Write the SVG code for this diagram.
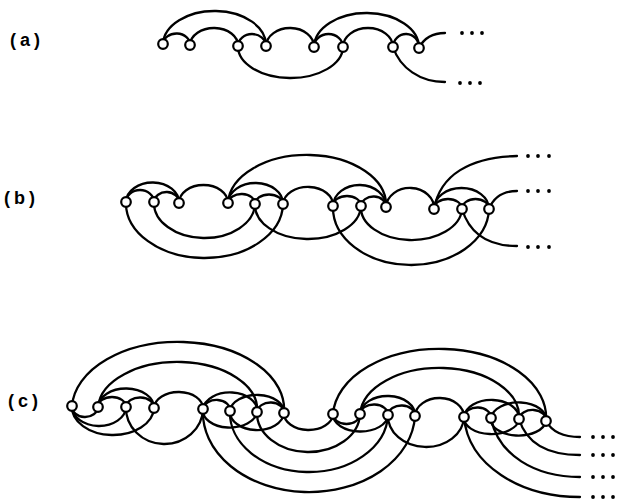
<svg xmlns="http://www.w3.org/2000/svg" width="617" height="502" viewBox="0 0 617 502">
<style>
.e{fill:none;stroke:#000;stroke-width:2.3;stroke-linecap:round}
.n{fill:#fff;stroke:#000;stroke-width:2.2}
.d{fill:#000}
.t{font-family:"Liberation Sans",Arial,sans-serif;font-size:18px;font-weight:bold;letter-spacing:4px;fill:#000}
</style>
<rect width="617" height="502" fill="#fff"/>
<g id="labels">
<text class="t" x="10" y="46">(a)</text>
<text class="t" x="4" y="204">(b)</text>
<text class="t" x="8" y="407">(c)</text>
</g>
<g id="connectors">
<!-- (a) -->
<path class="e" d="M163,44 A51.5,34 0 0 1 266,46"/>
<path class="e" d="M163,44 A13.5,11 0 0 1 190,45"/>
<path class="e" d="M190,45 A24,17.5 0 0 1 238,46"/>
<path class="e" d="M238,46 A14,12 0 0 1 266,46"/>
<path class="e" d="M266,46 A24,18.5 0 0 1 314,47"/>
<path class="e" d="M314,47 A14.5,13 0 0 1 343,47"/>
<path class="e" d="M343,47 A25,19 0 0 1 393,47"/>
<path class="e" d="M393,47 A13,13.5 0 0 1 419,48"/>
<path class="e" d="M314,47 A52.5,34.5 0 0 1 419,48"/>
<path class="e" d="M238,46 A52.5,31.5 0 0 0 343,47"/>
<path class="e" d="M393,47 C400,68 420,82 445,82"/>
<path class="e" d="M419,48 C424,38 432,33 445,33"/>
<!-- (b) -->
<path class="e" d="M126,202 A14,12 0 0 1 154,202"/>
<path class="e" d="M154,202 A12.5,10.5 0 0 1 179,203"/>
<path class="e" d="M126,202 A26.5,20 0 0 1 179,203"/>
<path class="e" d="M179,203 A24.5,18 0 0 1 228,203"/>
<path class="e" d="M228,203 A13.5,9.5 0 0 1 255,204"/>
<path class="e" d="M255,204 A14,9.5 0 0 1 283,204"/>
<path class="e" d="M228,203 A27.5,20.5 0 0 1 283,204"/>
<path class="e" d="M283,204 A25,18 0 0 1 333,206"/>
<path class="e" d="M333,206 A14,10 0 0 1 361,206"/>
<path class="e" d="M361,206 A12.5,10 0 0 1 386,207"/>
<path class="e" d="M333,206 A26.5,21.5 0 0 1 386,207"/>
<path class="e" d="M386,207 A24,20 0 0 1 434,209"/>
<path class="e" d="M434,209 A14,10 0 0 1 462,209"/>
<path class="e" d="M462,209 A13.5,10 0 0 1 489,209"/>
<path class="e" d="M434,209 A27.5,21 0 0 1 489,209"/>
<path class="e" d="M228,203 A79,50 0 0 1 386,207"/>
<path class="e" d="M126,202 A78.5,55 0 0 0 283,204"/>
<path class="e" d="M154,202 A50.5,35 0 0 0 255,204"/>
<path class="e" d="M255,204 A53,34 0 0 0 361,206"/>
<path class="e" d="M333,206 A78,57.5 0 0 0 489,209"/>
<path class="e" d="M361,206 A50.5,32.5 0 0 0 462,209"/>
<path class="e" d="M434,209 C440,175 470,157 517,156"/>
<path class="e" d="M489,209 C494,196 504,191 517,191"/>
<path class="e" d="M462,209 C470,235 490,246 517,246"/>
<!-- (c) top -->
<path class="e" d="M72,406 A106,67.5 0 0 1 284,413"/>
<path class="e" d="M98,407 A79.5,47.5 0 0 1 257,412"/>
<path class="e" d="M333,414 A106.5,68.5 0 0 1 546,421"/>
<path class="e" d="M360,414 A79.5,48.5 0 0 1 519,419"/>
<path class="e" d="M154,408 A24.5,16.5 0 0 1 203,409"/>
<path class="e" d="M415,416 A24.5,18.5 0 0 1 464,417"/>
<path class="e" d="M98,407 A14,10 0 0 1 126,407"/>
<path class="e" d="M126,407 A14,10 0 0 1 154,408"/>
<path class="e" d="M98,407 A28,19 0 0 1 154,408"/>
<path class="e" d="M203,409 A13.5,10 0 0 1 230,411"/>
<path class="e" d="M257,412 A13.5,10 0 0 1 284,413"/>
<path class="e" d="M203,409 A27,18 0 0 1 257,412"/>
<path class="e" d="M230,411 A27,17 0 0 1 284,413"/>
<path class="e" d="M360,414 A14,10 0 0 1 388,415"/>
<path class="e" d="M388,415 A13.5,10 0 0 1 415,416"/>
<path class="e" d="M360,414 A27.5,19 0 0 1 415,416"/>
<path class="e" d="M464,417 A13.5,10 0 0 1 491,418"/>
<path class="e" d="M519,419 A13.5,10 0 0 1 546,421"/>
<path class="e" d="M464,417 A27.5,18 0 0 1 519,419"/>
<path class="e" d="M491,418 A27.5,17 0 0 1 546,421"/>
<!-- (c) lower -->
<path class="e" d="M72,406 A13,10.5 0 0 0 98,407"/>
<path class="e" d="M72,406 A27,19.5 0 0 0 126,407"/>
<path class="e" d="M72,406 A41,28 0 0 0 154,408"/>
<path class="e" d="M126,407 A38.5,36 0 0 0 203,409"/>
<path class="e" d="M203,409 A27,17 0 0 0 257,412"/>
<path class="e" d="M230,411 A27,18 0 0 0 284,413"/>
<path class="e" d="M284,413 A24.5,16.5 0 0 0 333,414"/>
<path class="e" d="M257,412 A51.5,39 0 0 0 360,414"/>
<path class="e" d="M230,411 A79,59 0 0 0 388,415"/>
<path class="e" d="M203,409 A106,79.5 0 0 0 415,416"/>
<path class="e" d="M333,414 A13.5,10 0 0 0 360,414"/>
<path class="e" d="M333,414 A27.5,17 0 0 0 388,415"/>
<path class="e" d="M388,415 A38,31 0 0 0 464,417"/>
<path class="e" d="M464,417 A27.5,16 0 0 0 519,419"/>
<path class="e" d="M491,418 A27.5,16 0 0 0 546,421"/>
<path class="e" d="M546,421 C552,432 565,437 580,437"/>
<path class="e" d="M519,419 C527,445 550,455 580,455"/>
<path class="e" d="M491,418 C498,455 535,477 580,477"/>
<path class="e" d="M464,417 C468,465 520,497 580,497"/>
</g>
<g id="ellipses">
<circle class="d" cx="462" cy="33" r="1.9"/><circle class="d" cx="472" cy="33" r="1.9"/><circle class="d" cx="482" cy="33" r="1.9"/>
<circle class="d" cx="460" cy="83" r="1.9"/><circle class="d" cx="470" cy="83" r="1.9"/><circle class="d" cx="480" cy="83" r="1.9"/>
<circle class="d" cx="528" cy="156" r="1.9"/><circle class="d" cx="538" cy="156" r="1.9"/><circle class="d" cx="549" cy="156" r="1.9"/>
<circle class="d" cx="528" cy="191" r="1.9"/><circle class="d" cx="538" cy="191" r="1.9"/><circle class="d" cx="549" cy="191" r="1.9"/>
<circle class="d" cx="528" cy="247" r="1.9"/><circle class="d" cx="538" cy="247" r="1.9"/><circle class="d" cx="549" cy="247" r="1.9"/>
<circle class="d" cx="593" cy="437" r="1.9"/><circle class="d" cx="603" cy="437" r="1.9"/><circle class="d" cx="613" cy="437" r="1.9"/>
<circle class="d" cx="593" cy="455" r="1.9"/><circle class="d" cx="603" cy="455" r="1.9"/><circle class="d" cx="613" cy="455" r="1.9"/>
<circle class="d" cx="593" cy="477" r="1.9"/><circle class="d" cx="603" cy="477" r="1.9"/><circle class="d" cx="613" cy="477" r="1.9"/>
<circle class="d" cx="593" cy="497" r="1.9"/><circle class="d" cx="603" cy="497" r="1.9"/><circle class="d" cx="613" cy="497" r="1.9"/>
</g>
<g id="nodes-a">
<g id="a1"><circle class="n" cx="163" cy="44" r="4.8"/></g>
<g id="a2"><circle class="n" cx="190" cy="45" r="4.8"/></g>
<g id="a3"><circle class="n" cx="238" cy="46" r="4.8"/></g>
<g id="a4"><circle class="n" cx="266" cy="46" r="4.8"/></g>
<g id="a5"><circle class="n" cx="314" cy="47" r="4.8"/></g>
<g id="a6"><circle class="n" cx="343" cy="47" r="4.8"/></g>
<g id="a7"><circle class="n" cx="393" cy="47" r="4.8"/></g>
<g id="a8"><circle class="n" cx="419" cy="48" r="4.8"/></g>
</g>
<g id="nodes-b">
<g id="b1"><circle class="n" cx="126" cy="202" r="4.8"/></g>
<g id="b2"><circle class="n" cx="154" cy="202" r="4.8"/></g>
<g id="b3"><circle class="n" cx="179" cy="203" r="4.8"/></g>
<g id="b4"><circle class="n" cx="228" cy="203" r="4.8"/></g>
<g id="b5"><circle class="n" cx="255" cy="204" r="4.8"/></g>
<g id="b6"><circle class="n" cx="283" cy="204" r="4.8"/></g>
<g id="b7"><circle class="n" cx="333" cy="206" r="4.8"/></g>
<g id="b8"><circle class="n" cx="361" cy="206" r="4.8"/></g>
<g id="b9"><circle class="n" cx="386" cy="207" r="4.8"/></g>
<g id="b10"><circle class="n" cx="434" cy="209" r="4.8"/></g>
<g id="b11"><circle class="n" cx="462" cy="209" r="4.8"/></g>
<g id="b12"><circle class="n" cx="489" cy="209" r="4.8"/></g>
</g>
<g id="nodes-c">
<g id="c1"><circle class="n" cx="72" cy="406" r="4.8"/></g>
<g id="c2"><circle class="n" cx="98" cy="407" r="4.8"/></g>
<g id="c3"><circle class="n" cx="126" cy="407" r="4.8"/></g>
<g id="c4"><circle class="n" cx="154" cy="408" r="4.8"/></g>
<g id="c5"><circle class="n" cx="203" cy="409" r="4.8"/></g>
<g id="c6"><circle class="n" cx="230" cy="411" r="4.8"/></g>
<g id="c7"><circle class="n" cx="257" cy="412" r="4.8"/></g>
<g id="c8"><circle class="n" cx="284" cy="413" r="4.8"/></g>
<g id="c9"><circle class="n" cx="333" cy="414" r="4.8"/></g>
<g id="c10"><circle class="n" cx="360" cy="414" r="4.8"/></g>
<g id="c11"><circle class="n" cx="388" cy="415" r="4.8"/></g>
<g id="c12"><circle class="n" cx="415" cy="416" r="4.8"/></g>
<g id="c13"><circle class="n" cx="464" cy="417" r="4.8"/></g>
<g id="c14"><circle class="n" cx="491" cy="418" r="4.8"/></g>
<g id="c15"><circle class="n" cx="519" cy="419" r="4.8"/></g>
<g id="c16"><circle class="n" cx="546" cy="421" r="4.8"/></g>
</g>
</svg>
